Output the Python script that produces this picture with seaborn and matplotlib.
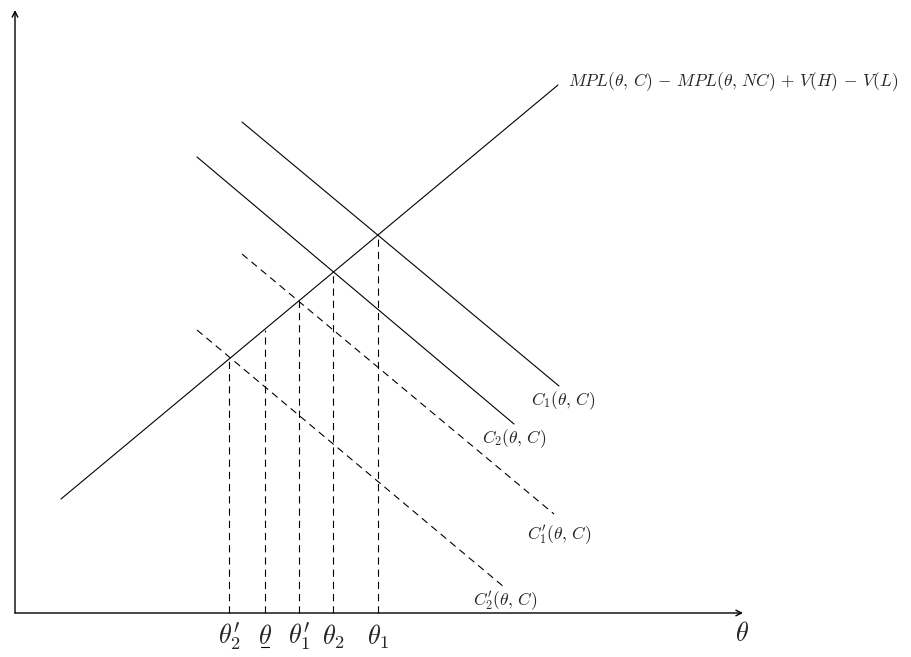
import matplotlib
matplotlib.use("Agg")
import matplotlib.pyplot as plt
import seaborn as sns
import pandas as pd

sns.set_style("white")
plt.rcParams["mathtext.fontset"] = "cm"
plt.rcParams["font.family"] = ["DejaVu Sans"]

# ---- data (schematic units; origin at axes crossing) ----
mpl_x = [46, 543]
mpl_y = [114, 528]
c1_x = [227, 544]
c1_y = [491, 227]
c2_x = [182, 499]
c2_y = [456, 189]
c1p_x = [227, 539]
c1p_y = [359, 99]
c2p_x = [182, 489]
c2p_y = [283, 26]
theta_x = [214, 250, 284, 318, 363]
theta_top = [254, 283, 312, 340, 378]
theta_labels = [r"$\theta_2^{\prime}$", r"$\theta$", r"$\theta_1^{\prime}$",
                r"$\theta_2$", r"$\theta_1$"]
underlined = [False, True, False, False, False]

fig = plt.figure(figsize=(9.11, 6.57), dpi=100)
ax = fig.add_axes([0, 0, 1, 1])
ax.set_xlim(-15, 896)
ax.set_ylim(-44, 613)
ax.axis("off")

lw = 0.8
dash = (6.5, 4.5)

def seg(xs, ys, dashed=False, width=lw):
    df = pd.DataFrame({"x": xs, "y": ys})
    sns.lineplot(data=df, x="x", y="y", ax=ax, color="black", lw=width,
                 sort=False, estimator=None)
    line = ax.lines[-1]
    if dashed:
        line.set_dashes(dash)

seg(mpl_x, mpl_y)
seg(c1_x, c1_y)
seg(c2_x, c2_y)
seg(c1p_x, c1p_y, dashed=True)
seg(c2p_x, c2p_y, dashed=True)
for x, top in zip(theta_x, theta_top):
    seg([x, x], [0, top], dashed=True)

# axes arrows
ax.annotate("", xy=(0, 603), xytext=(0, 0),
            arrowprops=dict(arrowstyle="->", lw=1.0, color="black",
                            shrinkA=0, shrinkB=0, mutation_scale=10))
ax.annotate("", xy=(728, 0), xytext=(0, 0),
            arrowprops=dict(arrowstyle="->", lw=1.0, color="black",
                            shrinkA=0, shrinkB=0, mutation_scale=10))

# tick labels
for x, lab, ul in zip(theta_x, theta_labels, underlined):
    ax.text(x, -24, lab, ha="center", va="center", fontsize=19)
    if ul:
        ax.plot([x - 4, x + 4], [-34, -34], color="black", lw=0.8)
ax.text(727, -21, r"$\theta$", ha="center", va="center", fontsize=19)

# curve labels
fs = 12.5
ax.text(553, 531,
        r"$MPL(\theta,\,C)\,-\,MPL(\theta,\,NC)\,+\,V(H)\,-\,V(L)$",
        ha="left", va="center", fontsize=fs)
ax.text(548, 212, r"$C_1(\theta,\,C)$", ha="center", va="center", fontsize=fs)
ax.text(499, 174, r"$C_2(\theta,\,C)$", ha="center", va="center", fontsize=fs)
ax.text(544, 78, r"$C_1^{\prime}(\theta,\,C)$", ha="center", va="center", fontsize=fs)
ax.text(490, 12, r"$C_2^{\prime}(\theta,\,C)$", ha="center", va="center", fontsize=fs)

fig.savefig("out.png", dpi=100)
